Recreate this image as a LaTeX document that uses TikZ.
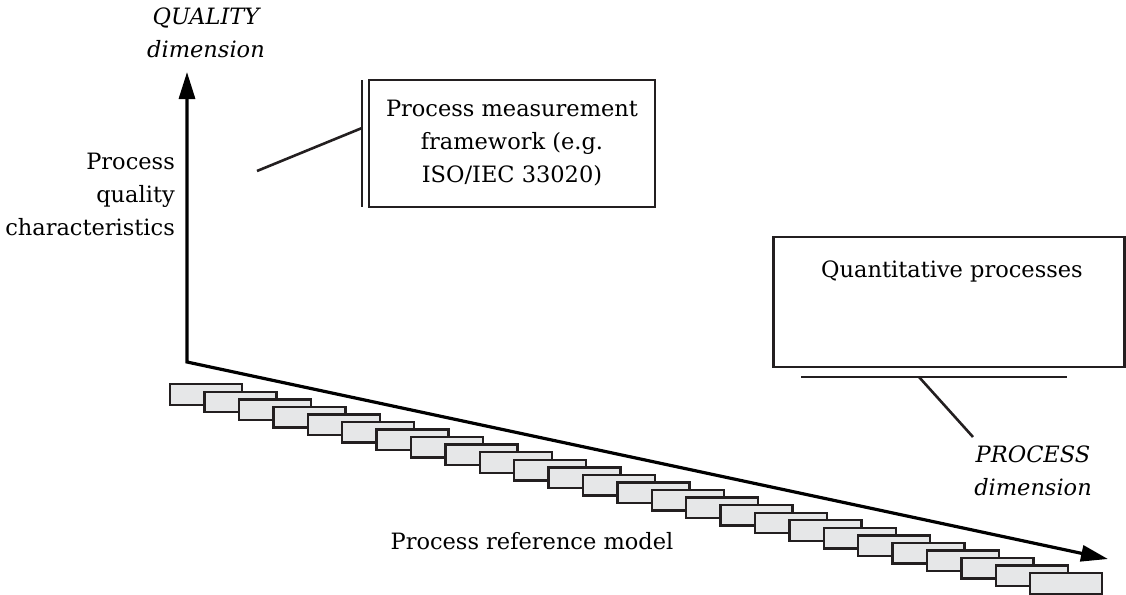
\documentclass[tikz,border=0pt]{standalone}
\usepackage{fontspec}
\setmainfont{DejaVu Serif}
\usetikzlibrary{arrows.meta}
\definecolor{edge}{HTML}{231F20}
\definecolor{boxfill}{HTML}{E6E7E8}
\begin{document}
\begin{tikzpicture}[x=1pt,y=-1pt,
  lbl/.style={font=\fontsize{22.5}{33}\selectfont, inner sep=0pt, align=center},
  frame/.style={draw=edge, line width=2.7pt, inner sep=0pt},
  prm/.style={draw=edge, fill=boxfill, line width=2.4pt, minimum width=72pt, minimum height=20.5pt, inner sep=0pt, anchor=north west},
  axis/.style={draw=black, line width=3.2pt, line join=miter},
  leader/.style={draw=edge, line width=2.6pt}]
\useasboundingbox (0,0) rectangle (1126,594);
% process reference model boxes
\foreach \i in {0,...,25}
  \node[prm] (r\i) at ({169+34.4*\i},{383+7.56*\i}) {};
% axes
\coordinate (O) at (187,362);
\coordinate (Qtip) at (187,72);
\coordinate (Ptip) at (1108,559);
\draw[axis, {Triangle[length=27pt,width=16pt]}-{Triangle[length=27pt,width=16pt]}] (Qtip) -- (O) -- (Ptip);
% measurement framework
\node[frame, lbl, minimum width=286pt, minimum height=127pt] (pmf) at (512,143.5)
  {Process measurement\\framework (e.g.\\ISO/IEC 33020)};
\coordinate (barT) at (362,80);
\coordinate (barB) at (362,207);
\coordinate (barM) at (362,128);
\coordinate (lead1) at (257,171);
\draw[leader] (barT) -- (barB);
\draw[leader] (lead1) -- (barM);
% quantitative processes
\node[frame, minimum width=351pt, minimum height=130pt] (qbox) at (949,302) {};
\node[lbl] (qtext) at (952,271) {Quantitative processes};
\coordinate (ulL) at (801,377);
\coordinate (ulR) at (1067,377);
\coordinate (ulM) at (919,377);
\coordinate (lead2) at (973,437);
\draw[leader] (ulL) -- (ulR);
\draw[leader] (ulM) -- (lead2);
% labels
\node[lbl, font=\fontsize{22.5}{33}\selectfont\itshape] (qdim) at (206,33) {QUALITY\\dimension};
\node[lbl, align=right, anchor=east] (pqc) at (175,194) {Process\\quality\\characteristics};
\node[lbl, font=\fontsize{22.5}{33}\selectfont\itshape] (pdim) at (1033,471) {PROCESS\\dimension};
\node[lbl] (prm) at (532,541) {Process reference model};
\end{tikzpicture}
\end{document}
